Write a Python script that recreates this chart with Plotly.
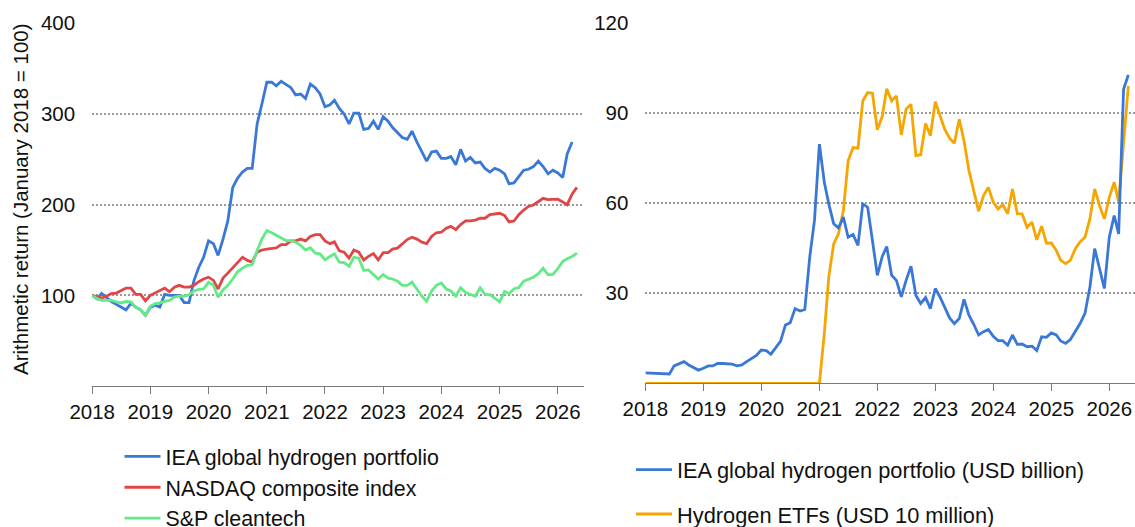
import pandas as pd
import plotly.graph_objects as go

# Monthly observations, January 2018 to May 2026
months = pd.date_range("2018-01-01", "2026-05-01", freq="MS")

# Left panel: arithmetic return, January 2018 = 100
iea_portfolio_index = [
    100, 96, 102, 97, 93, 90, 87, 84, 91, 87, 84, 78,
    87, 89, 87, 101, 100, 100, 100, 92, 92, 116, 131, 142,
    160, 157, 144, 162, 182, 219, 229, 236, 240, 240, 289, 311,
    335, 335, 331, 336, 333, 329, 321, 322, 317, 333, 329, 322,
    308, 310, 315, 306, 300, 289, 301, 301, 283, 284, 292, 283,
    297, 292, 285, 279, 274, 272, 281, 269, 258, 248, 258, 259,
    251, 251, 253, 244, 261, 248, 252, 246, 247, 240, 236, 240,
    238, 234, 223, 224, 231, 238, 239, 242, 248, 242, 234, 238,
    235, 230, 256, 269,
]
nasdaq_index = [
    100, 98, 97, 99, 102, 102.5, 105, 108, 108, 101, 101, 94,
    100, 103, 105.5, 108, 104, 109, 111, 109, 109, 111, 115, 118,
    120, 116.5, 107, 119, 124.5, 130, 135.5, 142, 138.5, 136.6, 147.6, 150,
    151, 152, 152.4, 156, 156, 160, 160, 162, 160, 165, 167, 167,
    160, 157, 159, 149, 147.6, 141, 150, 147.6, 139, 143, 146, 139,
    147, 147, 151, 152, 157, 161.5, 164, 162, 158.6, 157, 165, 169,
    169.6, 174, 176, 172.5, 178, 182, 182, 183, 185, 185, 189, 190,
    190.5, 188, 181, 182, 189, 194, 198, 199.6, 203, 207, 205.5, 206,
    206, 203, 200, 211.7, 219,
]
sp_cleantech_index = [
    100, 96.3, 94.5, 94.5, 94.5, 92.7, 91.6, 93.4, 92.7, 87, 84, 78,
    88, 91, 91.6, 93.4, 94.5, 98, 99, 99, 100.7, 104.8, 106.6, 107,
    114.6, 111, 98, 106, 111, 118, 126, 130, 133, 133.7, 149.5, 162,
    171.4, 169, 166, 163, 160.4, 160.4, 158.6, 155, 150, 152.4, 146.5, 145.8,
    139, 142.9, 145.8, 136.6, 136, 132, 142, 141, 127.5, 128, 122.7, 118,
    123, 119, 118, 115.7, 111, 111, 114.6, 106.6, 99, 93.4, 104.8, 111,
    113.6, 107, 104.8, 99, 108.4, 103, 100.7, 99, 108.4, 101, 100.7, 97,
    92.7, 104.4, 101.8, 107.3, 108.4, 115.7, 118, 120, 123.8, 130, 122.7, 123,
    129.3, 137.4, 140.3, 142.9, 146.5,
]

# Right panel: market value (USD billion) and hydrogen ETF assets (USD 10 million)
iea_portfolio_usd_bn = [
    3.5, 3.4, 3.3, 3.2, 3.1, 3.1, 5.8, 6.6, 7.2, 6.1, 5.2, 4.4,
    5.0, 5.8, 5.8, 6.6, 6.6, 6.6, 6.4, 5.8, 6.1, 7.2, 8.3, 9.3,
    11.1, 10.9, 9.7, 12, 14, 19.4, 20.2, 24.9, 24.1, 24.6, 42, 54.3,
    79.7, 67, 59.8, 53.2, 51.8, 55.4, 48.7, 49.6, 46, 59.8, 58.7, 47.6,
    36, 42.3, 45.6, 36, 34.3, 28.8, 34.3, 39, 29.3, 26.6, 28.6, 24.9,
    31.6, 28.6, 25.5, 21.8, 19.9, 21.6, 28, 22.7, 19.6, 16.1, 17.2, 17.9,
    15.7, 14.2, 14.2, 12.7, 16.1, 13, 13.1, 12.2, 12.4, 10.9, 15.5, 15.3,
    16.8, 16.1, 14.1, 13.3, 14.6, 17.2, 19.9, 23.3, 32.1, 44.9, 38.2, 31.6,
    48.7, 55.9, 49.8, 98, 102.8,
]
hydrogen_etfs_usd_10m = [
    0, 0, 0, 0, 0, 0, 0, 0, 0, 0, 0, 0,
    0, 0, 0, 0, 0, 0, 0, 0, 0, 0, 0, 0,
    0, 0, 0, 0, 0, 0, 0, 0, 0, 0, 0, 0,
    0, 16.6, 35.4, 46.5, 49.8, 57.6, 74.2, 78.6, 78.4, 94.1, 96.9, 96.7,
    84.5, 89, 98.2, 94.1, 95.8, 82.8, 91.4, 93, 75.9, 76.2, 86.6, 82.5,
    93.9, 89.1, 84.7, 81.7, 80, 88, 80.8, 70.9, 64.2, 57.4, 62.6, 65.3,
    60.4, 58.1, 59.6, 56.5, 64.8, 56.5, 56.5, 52, 53.7, 47.8, 52.4, 46.7,
    46.8, 44.3, 41, 39.9, 41, 44.9, 47.1, 48.7, 54.8, 64.8, 59.2, 54.8,
    62, 67, 60.4, 79.7, 99.1,
]

left_ticks = [100, 200, 300, 400]
right_ticks = [30, 60, 90, 120]

BLUE = "#3a78d8"
RED = "#e04646"
GREEN = "#62ea86"
ORANGE = "#f5a600"
FONT = "Liberation Sans, Arial, sans-serif"

W, H = 1135, 527

fig = go.Figure()

left_series = [
    ("IEA global hydrogen portfolio", iea_portfolio_index, BLUE),
    ("NASDAQ composite index", nasdaq_index, RED),
    ("S&P cleantech", sp_cleantech_index, GREEN),
]
for name, vals, col in left_series:
    fig.add_trace(go.Scatter(
        x=months, y=vals, name=name, mode="lines",
        line=dict(color=col, width=2.8),
        xaxis="x", yaxis="y", legend="legend",
    ))

# ETFs drawn beneath the portfolio line; legend lists the portfolio first
fig.add_trace(go.Scatter(
    x=months, y=hydrogen_etfs_usd_10m, name="Hydrogen ETFs (USD 10 million)",
    mode="lines", line=dict(color=ORANGE, width=2.8), xaxis="x2", yaxis="y2",
    legend="legend2", legendgroup="g2", legendrank=2,
))
fig.add_trace(go.Scatter(
    x=months, y=iea_portfolio_usd_bn,
    name="IEA global hydrogen portfolio (USD billion)",
    mode="lines", line=dict(color=BLUE, width=2.8), xaxis="x2", yaxis="y2",
    legend="legend2", legendgroup="g1", legendrank=1,
))


def px_x(p):
    return p / W


def px_y(p):
    return 1 - p / H


x_range = ["2018-01-01", "2026-06-12"]
xaxis_common = dict(
    type="date", range=x_range, dtick="M12", tick0="2018-01-01",
    tickformat="%Y", showgrid=False, zeroline=False,
    showline=True, linecolor="#7a7a7a", linewidth=1,
    ticks="outside", ticklen=7, tickcolor="#7a7a7a", tickwidth=1,
    tickfont=dict(family=FONT, size=20.5, color="#111"),
)
yaxis_common = dict(
    showgrid=True, gridcolor="#9a9a9a", gridwidth=2, griddash="2px,2px",
    zeroline=False, showline=False, ticks="",
    ticklabelstandoff=16,
    tickfont=dict(family=FONT, size=20.5, color="#111"),
)

fig.update_layout(
    width=W, height=H,
    margin=dict(l=0, r=0, t=0, b=0, autoexpand=False),
    paper_bgcolor="white", plot_bgcolor="white",
    font=dict(family=FONT, color="#111"),
    xaxis=dict(domain=[px_x(92.2), px_x(583.6)], anchor="y", **xaxis_common),
    yaxis=dict(domain=[px_y(386), px_y(23.3)], anchor="x",
               range=[0, 400], tickvals=left_ticks, **yaxis_common),
    xaxis2=dict(domain=[px_x(645.4), 1.0], anchor="y2", **xaxis_common),
    yaxis2=dict(domain=[px_y(383.3), px_y(23.3)], anchor="x2",
                range=[0, 120], tickvals=right_ticks, **yaxis_common),
    legend=dict(
        x=px_x(119.5), y=px_y(436), xanchor="left", yanchor="top",
        font=dict(family=FONT, size=21.4, color="#111"),
        bgcolor="rgba(0,0,0,0)", borderwidth=0, itemwidth=36,
        tracegroupgap=0,
    ),
    legend2=dict(
        x=px_x(631), y=px_y(449), xanchor="left", yanchor="top",
        font=dict(family=FONT, size=21.8, color="#111"),
        bgcolor="rgba(0,0,0,0)", borderwidth=0, itemwidth=36,
        tracegroupgap=13, traceorder="grouped",
    ),
    annotations=[dict(
        text="Arithmetic return (January 2018 = 100)",
        x=px_x(20), y=px_y(199), xref="paper", yref="paper",
        xanchor="center", yanchor="middle", textangle=-90, showarrow=False,
        font=dict(family=FONT, size=20.5, color="#111"),
    )],
)

fig.write_html("out.html")
